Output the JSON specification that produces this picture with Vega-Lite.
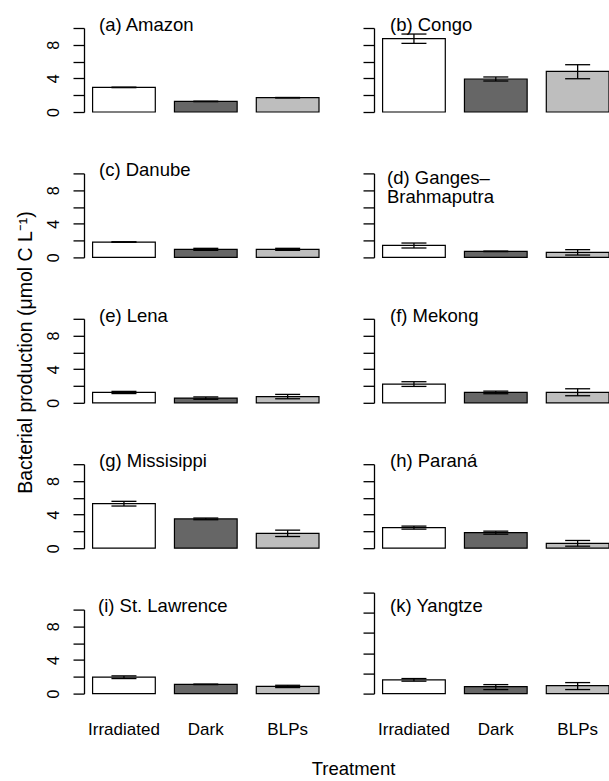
{
  "$schema": "https://vega.github.io/schema/vega-lite/v6.json",
  "padding": {"left": 15, "top": 15, "right": 0, "bottom": 0},
  "bounds": "flush",
  "columns": 2,
  "spacing": {"row": 61.4, "column": 55},
  "data": {"values": [
    {"river": "Amazon", "treatment": "Irradiated", "mean": 2.93, "lo": 2.9, "hi": 2.96},
    {"river": "Amazon", "treatment": "Dark", "mean": 1.26, "lo": 1.23, "hi": 1.29},
    {"river": "Amazon", "treatment": "BLPs", "mean": 1.7, "lo": 1.67, "hi": 1.73},
    {"river": "Congo", "treatment": "Irradiated", "mean": 8.73, "lo": 8.17, "hi": 9.28},
    {"river": "Congo", "treatment": "Dark", "mean": 3.93, "lo": 3.69, "hi": 4.17},
    {"river": "Congo", "treatment": "BLPs", "mean": 4.83, "lo": 3.96, "hi": 5.63},
    {"river": "Danube", "treatment": "Irradiated", "mean": 1.83, "lo": 1.8, "hi": 1.86},
    {"river": "Danube", "treatment": "Dark", "mean": 0.96, "lo": 0.84, "hi": 1.08},
    {"river": "Danube", "treatment": "BLPs", "mean": 0.96, "lo": 0.84, "hi": 1.08},
    {"river": "Ganges", "treatment": "Irradiated", "mean": 1.43, "lo": 1.12, "hi": 1.71},
    {"river": "Ganges", "treatment": "Dark", "mean": 0.72, "lo": 0.69, "hi": 0.75},
    {"river": "Ganges", "treatment": "BLPs", "mean": 0.6, "lo": 0.28, "hi": 0.92},
    {"river": "Lena", "treatment": "Irradiated", "mean": 1.23, "lo": 1.1, "hi": 1.36},
    {"river": "Lena", "treatment": "Dark", "mean": 0.56, "lo": 0.42, "hi": 0.7},
    {"river": "Lena", "treatment": "BLPs", "mean": 0.74, "lo": 0.48, "hi": 1.0},
    {"river": "Mekong", "treatment": "Irradiated", "mean": 2.23, "lo": 1.95, "hi": 2.51},
    {"river": "Mekong", "treatment": "Dark", "mean": 1.23, "lo": 1.08, "hi": 1.39},
    {"river": "Mekong", "treatment": "BLPs", "mean": 1.25, "lo": 0.84, "hi": 1.67},
    {"river": "Missisippi", "treatment": "Irradiated", "mean": 5.3, "lo": 5.02, "hi": 5.58},
    {"river": "Missisippi", "treatment": "Dark", "mean": 3.49, "lo": 3.39, "hi": 3.59},
    {"river": "Missisippi", "treatment": "BLPs", "mean": 1.77, "lo": 1.39, "hi": 2.15},
    {"river": "Parana", "treatment": "Irradiated", "mean": 2.45, "lo": 2.27, "hi": 2.63},
    {"river": "Parana", "treatment": "Dark", "mean": 1.85, "lo": 1.67, "hi": 2.03},
    {"river": "Parana", "treatment": "BLPs", "mean": 0.58, "lo": 0.24, "hi": 0.92},
    {"river": "StLawrence", "treatment": "Irradiated", "mean": 1.95, "lo": 1.79, "hi": 2.11},
    {"river": "StLawrence", "treatment": "Dark", "mean": 1.1, "lo": 1.07, "hi": 1.13},
    {"river": "StLawrence", "treatment": "BLPs", "mean": 0.86, "lo": 0.72, "hi": 0.99},
    {"river": "Yangtze", "treatment": "Irradiated", "mean": 1.36, "lo": 1.23, "hi": 1.49},
    {"river": "Yangtze", "treatment": "Dark", "mean": 0.69, "lo": 0.4, "hi": 0.89},
    {"river": "Yangtze", "treatment": "BLPs", "mean": 0.79, "lo": 0.4, "hi": 1.09}
  ]},
  "concat": [
      {"width": 235, "height": 84,
       "title": {"text": "(a) Amazon", "anchor": "start", "frame": "group", "baseline": "alphabetic", "offset": -22.5, "dx": 15},
       "transform": [{"filter": "datum.river === 'Amazon'"}],
       "encoding": {"x": {"field": "treatment", "type": "nominal", "sort": ["Irradiated", "Dark", "BLPs"], "scale": {"paddingInner": 0.234, "paddingOuter": 0.0525, "align": 1}, "axis": null}},
       "layer": [
        {"mark": {"type": "bar", "stroke": "black", "strokeWidth": 1.2}, "encoding": {"y": {"field": "mean", "type": "quantitative", "scale": {"domain": [0, 10], "nice": false}, "axis": {"values": [0, 2, 4, 6, 8, 10], "labelExpr": "datum.value % 4 === 0 ? datum.label : ''", "title": "Bacterial production (μmol C L⁻¹)", "titleX": -52.5, "titleY": 324, "titleAngle": 270, "titleAlign": "center", "titleBaseline": "alphabetic", "titleFontSize": 19.5}}, "fill": {"field": "treatment", "type": "nominal", "scale": {"domain": ["Irradiated", "Dark", "BLPs"], "range": ["#ffffff", "#666666", "#bebebe"]}, "legend": null}}},
        {"mark": {"type": "rule", "color": "black", "strokeWidth": 1.3}, "encoding": {"y": {"field": "lo", "type": "quantitative", "scale": {"domain": [0, 10], "nice": false}, "axis": {"values": [0, 2, 4, 6, 8, 10], "labelExpr": "datum.value % 4 === 0 ? datum.label : ''", "title": "Bacterial production (μmol C L⁻¹)", "titleX": -52.5, "titleY": 324, "titleAngle": 270, "titleAlign": "center", "titleBaseline": "alphabetic", "titleFontSize": 19.5}}, "y2": {"field": "hi"}}},
        {"mark": {"type": "tick", "color": "black", "size": 25, "thickness": 1.3, "opacity": 1}, "encoding": {"y": {"field": "lo", "type": "quantitative", "scale": {"domain": [0, 10], "nice": false}, "axis": {"values": [0, 2, 4, 6, 8, 10], "labelExpr": "datum.value % 4 === 0 ? datum.label : ''", "title": "Bacterial production (μmol C L⁻¹)", "titleX": -52.5, "titleY": 324, "titleAngle": 270, "titleAlign": "center", "titleBaseline": "alphabetic", "titleFontSize": 19.5}}}},
        {"mark": {"type": "tick", "color": "black", "size": 25, "thickness": 1.3, "opacity": 1}, "encoding": {"y": {"field": "hi", "type": "quantitative", "scale": {"domain": [0, 10], "nice": false}, "axis": {"values": [0, 2, 4, 6, 8, 10], "labelExpr": "datum.value % 4 === 0 ? datum.label : ''", "title": "Bacterial production (μmol C L⁻¹)", "titleX": -52.5, "titleY": 324, "titleAngle": 270, "titleAlign": "center", "titleBaseline": "alphabetic", "titleFontSize": 19.5}}}}
       ]},
      {"width": 235, "height": 84,
       "title": {"text": "(b) Congo", "anchor": "start", "frame": "group", "baseline": "alphabetic", "offset": -22, "dx": 16},
       "transform": [{"filter": "datum.river === 'Congo'"}],
       "encoding": {"x": {"field": "treatment", "type": "nominal", "sort": ["Irradiated", "Dark", "BLPs"], "scale": {"paddingInner": 0.234, "paddingOuter": 0.0525, "align": 1}, "axis": null}},
       "layer": [
        {"mark": {"type": "bar", "stroke": "black", "strokeWidth": 1.2}, "encoding": {"y": {"field": "mean", "type": "quantitative", "scale": {"domain": [0, 10], "nice": false}, "axis": {"values": [0, 2, 4, 6, 8, 10], "labels": false, "title": null}}, "fill": {"field": "treatment", "type": "nominal", "scale": {"domain": ["Irradiated", "Dark", "BLPs"], "range": ["#ffffff", "#666666", "#bebebe"]}, "legend": null}}},
        {"mark": {"type": "rule", "color": "black", "strokeWidth": 1.3}, "encoding": {"y": {"field": "lo", "type": "quantitative", "scale": {"domain": [0, 10], "nice": false}, "axis": {"values": [0, 2, 4, 6, 8, 10], "labels": false, "title": null}}, "y2": {"field": "hi"}}},
        {"mark": {"type": "tick", "color": "black", "size": 25, "thickness": 1.3, "opacity": 1}, "encoding": {"y": {"field": "lo", "type": "quantitative", "scale": {"domain": [0, 10], "nice": false}, "axis": {"values": [0, 2, 4, 6, 8, 10], "labels": false, "title": null}}}},
        {"mark": {"type": "tick", "color": "black", "size": 25, "thickness": 1.3, "opacity": 1}, "encoding": {"y": {"field": "hi", "type": "quantitative", "scale": {"domain": [0, 10], "nice": false}, "axis": {"values": [0, 2, 4, 6, 8, 10], "labels": false, "title": null}}}}
       ]},
      {"width": 235, "height": 84,
       "title": {"text": "(c) Danube", "anchor": "start", "frame": "group", "baseline": "alphabetic", "offset": -22, "dx": 15},
       "transform": [{"filter": "datum.river === 'Danube'"}],
       "encoding": {"x": {"field": "treatment", "type": "nominal", "sort": ["Irradiated", "Dark", "BLPs"], "scale": {"paddingInner": 0.234, "paddingOuter": 0.0525, "align": 1}, "axis": null}},
       "layer": [
        {"mark": {"type": "bar", "stroke": "black", "strokeWidth": 1.2}, "encoding": {"y": {"field": "mean", "type": "quantitative", "scale": {"domain": [0, 10], "nice": false}, "axis": {"values": [0, 2, 4, 6, 8, 10], "labelExpr": "datum.value % 4 === 0 ? datum.label : ''", "title": null}}, "fill": {"field": "treatment", "type": "nominal", "scale": {"domain": ["Irradiated", "Dark", "BLPs"], "range": ["#ffffff", "#666666", "#bebebe"]}, "legend": null}}},
        {"mark": {"type": "rule", "color": "black", "strokeWidth": 1.3}, "encoding": {"y": {"field": "lo", "type": "quantitative", "scale": {"domain": [0, 10], "nice": false}, "axis": {"values": [0, 2, 4, 6, 8, 10], "labelExpr": "datum.value % 4 === 0 ? datum.label : ''", "title": null}}, "y2": {"field": "hi"}}},
        {"mark": {"type": "tick", "color": "black", "size": 25, "thickness": 1.3, "opacity": 1}, "encoding": {"y": {"field": "lo", "type": "quantitative", "scale": {"domain": [0, 10], "nice": false}, "axis": {"values": [0, 2, 4, 6, 8, 10], "labelExpr": "datum.value % 4 === 0 ? datum.label : ''", "title": null}}}},
        {"mark": {"type": "tick", "color": "black", "size": 25, "thickness": 1.3, "opacity": 1}, "encoding": {"y": {"field": "hi", "type": "quantitative", "scale": {"domain": [0, 10], "nice": false}, "axis": {"values": [0, 2, 4, 6, 8, 10], "labelExpr": "datum.value % 4 === 0 ? datum.label : ''", "title": null}}}}
       ]},
      {"width": 235, "height": 84,
       "title": {"text": ["(d) Ganges–", "Brahmaputra"], "anchor": "start", "frame": "group", "baseline": "alphabetic", "offset": -49, "dx": 13, "lineHeight": 19.5},
       "transform": [{"filter": "datum.river === 'Ganges'"}],
       "encoding": {"x": {"field": "treatment", "type": "nominal", "sort": ["Irradiated", "Dark", "BLPs"], "scale": {"paddingInner": 0.234, "paddingOuter": 0.0525, "align": 1}, "axis": null}},
       "layer": [
        {"mark": {"type": "bar", "stroke": "black", "strokeWidth": 1.2}, "encoding": {"y": {"field": "mean", "type": "quantitative", "scale": {"domain": [0, 10], "nice": false}, "axis": {"values": [0, 2, 4, 6, 8, 10], "labels": false, "title": null}}, "fill": {"field": "treatment", "type": "nominal", "scale": {"domain": ["Irradiated", "Dark", "BLPs"], "range": ["#ffffff", "#666666", "#bebebe"]}, "legend": null}}},
        {"mark": {"type": "rule", "color": "black", "strokeWidth": 1.3}, "encoding": {"y": {"field": "lo", "type": "quantitative", "scale": {"domain": [0, 10], "nice": false}, "axis": {"values": [0, 2, 4, 6, 8, 10], "labels": false, "title": null}}, "y2": {"field": "hi"}}},
        {"mark": {"type": "tick", "color": "black", "size": 25, "thickness": 1.3, "opacity": 1}, "encoding": {"y": {"field": "lo", "type": "quantitative", "scale": {"domain": [0, 10], "nice": false}, "axis": {"values": [0, 2, 4, 6, 8, 10], "labels": false, "title": null}}}},
        {"mark": {"type": "tick", "color": "black", "size": 25, "thickness": 1.3, "opacity": 1}, "encoding": {"y": {"field": "hi", "type": "quantitative", "scale": {"domain": [0, 10], "nice": false}, "axis": {"values": [0, 2, 4, 6, 8, 10], "labels": false, "title": null}}}}
       ]},
      {"width": 235, "height": 84,
       "title": {"text": "(e) Lena", "anchor": "start", "frame": "group", "baseline": "alphabetic", "offset": -22, "dx": 15},
       "transform": [{"filter": "datum.river === 'Lena'"}],
       "encoding": {"x": {"field": "treatment", "type": "nominal", "sort": ["Irradiated", "Dark", "BLPs"], "scale": {"paddingInner": 0.234, "paddingOuter": 0.0525, "align": 1}, "axis": null}},
       "layer": [
        {"mark": {"type": "bar", "stroke": "black", "strokeWidth": 1.2}, "encoding": {"y": {"field": "mean", "type": "quantitative", "scale": {"domain": [0, 10], "nice": false}, "axis": {"values": [0, 2, 4, 6, 8, 10], "labelExpr": "datum.value % 4 === 0 ? datum.label : ''", "title": null}}, "fill": {"field": "treatment", "type": "nominal", "scale": {"domain": ["Irradiated", "Dark", "BLPs"], "range": ["#ffffff", "#666666", "#bebebe"]}, "legend": null}}},
        {"mark": {"type": "rule", "color": "black", "strokeWidth": 1.3}, "encoding": {"y": {"field": "lo", "type": "quantitative", "scale": {"domain": [0, 10], "nice": false}, "axis": {"values": [0, 2, 4, 6, 8, 10], "labelExpr": "datum.value % 4 === 0 ? datum.label : ''", "title": null}}, "y2": {"field": "hi"}}},
        {"mark": {"type": "tick", "color": "black", "size": 25, "thickness": 1.3, "opacity": 1}, "encoding": {"y": {"field": "lo", "type": "quantitative", "scale": {"domain": [0, 10], "nice": false}, "axis": {"values": [0, 2, 4, 6, 8, 10], "labelExpr": "datum.value % 4 === 0 ? datum.label : ''", "title": null}}}},
        {"mark": {"type": "tick", "color": "black", "size": 25, "thickness": 1.3, "opacity": 1}, "encoding": {"y": {"field": "hi", "type": "quantitative", "scale": {"domain": [0, 10], "nice": false}, "axis": {"values": [0, 2, 4, 6, 8, 10], "labelExpr": "datum.value % 4 === 0 ? datum.label : ''", "title": null}}}}
       ]},
      {"width": 235, "height": 84,
       "title": {"text": "(f) Mekong", "anchor": "start", "frame": "group", "baseline": "alphabetic", "offset": -22, "dx": 16},
       "transform": [{"filter": "datum.river === 'Mekong'"}],
       "encoding": {"x": {"field": "treatment", "type": "nominal", "sort": ["Irradiated", "Dark", "BLPs"], "scale": {"paddingInner": 0.234, "paddingOuter": 0.0525, "align": 1}, "axis": null}},
       "layer": [
        {"mark": {"type": "bar", "stroke": "black", "strokeWidth": 1.2}, "encoding": {"y": {"field": "mean", "type": "quantitative", "scale": {"domain": [0, 10], "nice": false}, "axis": {"values": [0, 2, 4, 6, 8, 10], "labels": false, "title": null}}, "fill": {"field": "treatment", "type": "nominal", "scale": {"domain": ["Irradiated", "Dark", "BLPs"], "range": ["#ffffff", "#666666", "#bebebe"]}, "legend": null}}},
        {"mark": {"type": "rule", "color": "black", "strokeWidth": 1.3}, "encoding": {"y": {"field": "lo", "type": "quantitative", "scale": {"domain": [0, 10], "nice": false}, "axis": {"values": [0, 2, 4, 6, 8, 10], "labels": false, "title": null}}, "y2": {"field": "hi"}}},
        {"mark": {"type": "tick", "color": "black", "size": 25, "thickness": 1.3, "opacity": 1}, "encoding": {"y": {"field": "lo", "type": "quantitative", "scale": {"domain": [0, 10], "nice": false}, "axis": {"values": [0, 2, 4, 6, 8, 10], "labels": false, "title": null}}}},
        {"mark": {"type": "tick", "color": "black", "size": 25, "thickness": 1.3, "opacity": 1}, "encoding": {"y": {"field": "hi", "type": "quantitative", "scale": {"domain": [0, 10], "nice": false}, "axis": {"values": [0, 2, 4, 6, 8, 10], "labels": false, "title": null}}}}
       ]},
      {"width": 235, "height": 84,
       "title": {"text": "(g) Missisippi", "anchor": "start", "frame": "group", "baseline": "alphabetic", "offset": -22, "dx": 15},
       "transform": [{"filter": "datum.river === 'Missisippi'"}],
       "encoding": {"x": {"field": "treatment", "type": "nominal", "sort": ["Irradiated", "Dark", "BLPs"], "scale": {"paddingInner": 0.234, "paddingOuter": 0.0525, "align": 1}, "axis": null}},
       "layer": [
        {"mark": {"type": "bar", "stroke": "black", "strokeWidth": 1.2}, "encoding": {"y": {"field": "mean", "type": "quantitative", "scale": {"domain": [0, 10], "nice": false}, "axis": {"values": [0, 2, 4, 6, 8, 10], "labelExpr": "datum.value % 4 === 0 ? datum.label : ''", "title": null}}, "fill": {"field": "treatment", "type": "nominal", "scale": {"domain": ["Irradiated", "Dark", "BLPs"], "range": ["#ffffff", "#666666", "#bebebe"]}, "legend": null}}},
        {"mark": {"type": "rule", "color": "black", "strokeWidth": 1.3}, "encoding": {"y": {"field": "lo", "type": "quantitative", "scale": {"domain": [0, 10], "nice": false}, "axis": {"values": [0, 2, 4, 6, 8, 10], "labelExpr": "datum.value % 4 === 0 ? datum.label : ''", "title": null}}, "y2": {"field": "hi"}}},
        {"mark": {"type": "tick", "color": "black", "size": 25, "thickness": 1.3, "opacity": 1}, "encoding": {"y": {"field": "lo", "type": "quantitative", "scale": {"domain": [0, 10], "nice": false}, "axis": {"values": [0, 2, 4, 6, 8, 10], "labelExpr": "datum.value % 4 === 0 ? datum.label : ''", "title": null}}}},
        {"mark": {"type": "tick", "color": "black", "size": 25, "thickness": 1.3, "opacity": 1}, "encoding": {"y": {"field": "hi", "type": "quantitative", "scale": {"domain": [0, 10], "nice": false}, "axis": {"values": [0, 2, 4, 6, 8, 10], "labelExpr": "datum.value % 4 === 0 ? datum.label : ''", "title": null}}}}
       ]},
      {"width": 235, "height": 84,
       "title": {"text": "(h) Paraná", "anchor": "start", "frame": "group", "baseline": "alphabetic", "offset": -22, "dx": 16},
       "transform": [{"filter": "datum.river === 'Parana'"}],
       "encoding": {"x": {"field": "treatment", "type": "nominal", "sort": ["Irradiated", "Dark", "BLPs"], "scale": {"paddingInner": 0.234, "paddingOuter": 0.0525, "align": 1}, "axis": null}},
       "layer": [
        {"mark": {"type": "bar", "stroke": "black", "strokeWidth": 1.2}, "encoding": {"y": {"field": "mean", "type": "quantitative", "scale": {"domain": [0, 10], "nice": false}, "axis": {"values": [0, 2, 4, 6, 8, 10], "labels": false, "title": null}}, "fill": {"field": "treatment", "type": "nominal", "scale": {"domain": ["Irradiated", "Dark", "BLPs"], "range": ["#ffffff", "#666666", "#bebebe"]}, "legend": null}}},
        {"mark": {"type": "rule", "color": "black", "strokeWidth": 1.3}, "encoding": {"y": {"field": "lo", "type": "quantitative", "scale": {"domain": [0, 10], "nice": false}, "axis": {"values": [0, 2, 4, 6, 8, 10], "labels": false, "title": null}}, "y2": {"field": "hi"}}},
        {"mark": {"type": "tick", "color": "black", "size": 25, "thickness": 1.3, "opacity": 1}, "encoding": {"y": {"field": "lo", "type": "quantitative", "scale": {"domain": [0, 10], "nice": false}, "axis": {"values": [0, 2, 4, 6, 8, 10], "labels": false, "title": null}}}},
        {"mark": {"type": "tick", "color": "black", "size": 25, "thickness": 1.3, "opacity": 1}, "encoding": {"y": {"field": "hi", "type": "quantitative", "scale": {"domain": [0, 10], "nice": false}, "axis": {"values": [0, 2, 4, 6, 8, 10], "labels": false, "title": null}}}}
       ]},
      {"width": 235, "height": 84,
       "title": {"text": "(i) St. Lawrence", "anchor": "start", "frame": "group", "baseline": "alphabetic", "offset": -22, "dx": 14},
       "transform": [{"filter": "datum.river === 'StLawrence'"}],
       "encoding": {"x": {"field": "treatment", "type": "nominal", "sort": ["Irradiated", "Dark", "BLPs"], "scale": {"paddingInner": 0.234, "paddingOuter": 0.0525, "align": 1}, "axis": {"title": "Treatment", "titleX": 269, "titleY": 80.5, "titleBaseline": "alphabetic", "titleAlign": "center"}}},
       "layer": [
        {"mark": {"type": "bar", "stroke": "black", "strokeWidth": 1.2}, "encoding": {"y": {"field": "mean", "type": "quantitative", "scale": {"domain": [0, 10], "nice": false}, "axis": {"values": [0, 2, 4, 6, 8, 10], "labelExpr": "datum.value % 4 === 0 ? datum.label : ''", "title": null}}, "fill": {"field": "treatment", "type": "nominal", "scale": {"domain": ["Irradiated", "Dark", "BLPs"], "range": ["#ffffff", "#666666", "#bebebe"]}, "legend": null}}},
        {"mark": {"type": "rule", "color": "black", "strokeWidth": 1.3}, "encoding": {"y": {"field": "lo", "type": "quantitative", "scale": {"domain": [0, 10], "nice": false}, "axis": {"values": [0, 2, 4, 6, 8, 10], "labelExpr": "datum.value % 4 === 0 ? datum.label : ''", "title": null}}, "y2": {"field": "hi"}}},
        {"mark": {"type": "tick", "color": "black", "size": 25, "thickness": 1.3, "opacity": 1}, "encoding": {"y": {"field": "lo", "type": "quantitative", "scale": {"domain": [0, 10], "nice": false}, "axis": {"values": [0, 2, 4, 6, 8, 10], "labelExpr": "datum.value % 4 === 0 ? datum.label : ''", "title": null}}}},
        {"mark": {"type": "tick", "color": "black", "size": 25, "thickness": 1.3, "opacity": 1}, "encoding": {"y": {"field": "hi", "type": "quantitative", "scale": {"domain": [0, 10], "nice": false}, "axis": {"values": [0, 2, 4, 6, 8, 10], "labelExpr": "datum.value % 4 === 0 ? datum.label : ''", "title": null}}}}
       ]},
      {"width": 235, "height": 84,
       "title": {"text": "(k) Yangtze", "anchor": "start", "frame": "group", "baseline": "alphabetic", "offset": -39, "dx": 16},
       "transform": [{"filter": "datum.river === 'Yangtze'"}],
       "encoding": {"x": {"field": "treatment", "type": "nominal", "sort": ["Irradiated", "Dark", "BLPs"], "scale": {"paddingInner": 0.234, "paddingOuter": 0.0525, "align": 1}, "axis": {"title": null}}},
       "layer": [
        {"mark": {"type": "bar", "stroke": "black", "strokeWidth": 1.2}, "encoding": {"y": {"field": "mean", "type": "quantitative", "scale": {"domain": [0, 10], "nice": false, "range": [84, -17]}, "axis": {"values": [0, 2, 4, 6, 8, 10], "labels": false, "title": null}}, "fill": {"field": "treatment", "type": "nominal", "scale": {"domain": ["Irradiated", "Dark", "BLPs"], "range": ["#ffffff", "#666666", "#bebebe"]}, "legend": null}}},
        {"mark": {"type": "rule", "color": "black", "strokeWidth": 1.3}, "encoding": {"y": {"field": "lo", "type": "quantitative", "scale": {"domain": [0, 10], "nice": false, "range": [84, -17]}, "axis": {"values": [0, 2, 4, 6, 8, 10], "labels": false, "title": null}}, "y2": {"field": "hi"}}},
        {"mark": {"type": "tick", "color": "black", "size": 25, "thickness": 1.3, "opacity": 1}, "encoding": {"y": {"field": "lo", "type": "quantitative", "scale": {"domain": [0, 10], "nice": false, "range": [84, -17]}, "axis": {"values": [0, 2, 4, 6, 8, 10], "labels": false, "title": null}}}},
        {"mark": {"type": "tick", "color": "black", "size": 25, "thickness": 1.3, "opacity": 1}, "encoding": {"y": {"field": "hi", "type": "quantitative", "scale": {"domain": [0, 10], "nice": false, "range": [84, -17]}, "axis": {"values": [0, 2, 4, 6, 8, 10], "labels": false, "title": null}}}}
       ]}
  ],
  "config": {
    "view": {"stroke": null},
    "font": "Liberation Sans",
    "title": {"font": "Liberation Sans", "fontSize": 18.5, "fontWeight": "normal", "color": "black"},
    "axis": {"labelFont": "Liberation Sans", "titleFont": "Liberation Sans", "labelColor": "black", "titleColor": "black", "domainColor": "black", "tickColor": "black", "grid": false, "titleFontWeight": "normal", "titleFontSize": 18.5},
    "axisY": {"tickSize": 11, "labelAngle": 270, "labelAlign": "center", "labelBaseline": "alphabetic", "labelPadding": 15, "labelFontSize": 16, "domainWidth": 1.3, "tickWidth": 1.3, "labelOverlap": false, "labelFlush": false},
    "axisX": {"domain": false, "ticks": false, "tickSize": 0, "labelAngle": 0, "labelPadding": 40.5, "labelBaseline": "alphabetic", "labelFontSize": 17, "labelFlush": false, "labelOverlap": false}
  }
}
